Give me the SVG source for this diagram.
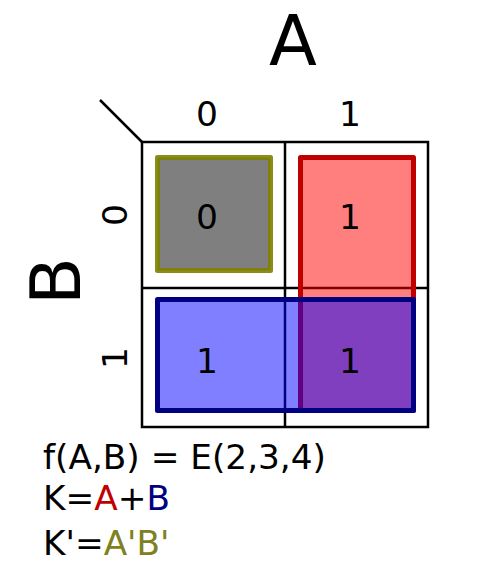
<svg xmlns="http://www.w3.org/2000/svg" width="500" height="572" viewBox="0 0 500 572">
<style>
text{font-family:"DejaVu Sans",sans-serif;fill:#000}
.big{font-size:70px;text-anchor:middle}
.mid{font-size:34.5px;text-anchor:middle}
.eq{font-size:34.3px}
.grid{fill:none;stroke:#000;stroke-width:2.5}
.grp{stroke-width:5;stroke-linejoin:round}
</style>
<rect width="500" height="572" fill="#fff"/>
<g id="grid">
<rect class="grid" x="142" y="142" width="286" height="285"/>
<line class="grid" x1="285" y1="142" x2="285" y2="427"/>
<line class="grid" x1="142" y1="288" x2="428" y2="288"/>
<line class="grid" x1="100" y1="100" x2="142" y2="142"/>
</g>
<g id="group-zero"><rect class="grp" x="157.5" y="157.5" width="113" height="113" fill="#000" fill-opacity="0.5" stroke="#808000" stroke-opacity="0.9"/></g>
<g id="group-A"><rect class="grp" x="300.5" y="157.5" width="113" height="253" fill="#f00" fill-opacity="0.5" stroke="#c00000"/></g>
<g id="group-B"><rect class="grp" x="157.5" y="299.5" width="256" height="111" fill="#00f" fill-opacity="0.5" stroke="#000080"/></g>
<g id="labels">
<text class="big" x="293" y="65">A</text>
<text class="big" transform="translate(80 281) rotate(-90)">B</text>
<text class="mid" x="207" y="126">0</text>
<text class="mid" x="350" y="126">1</text>
<text class="mid" transform="translate(127 215) rotate(-90)">0</text>
<text class="mid" transform="translate(127 358) rotate(-90)">1</text>
<text class="mid" x="207" y="229">0</text>
<text class="mid" x="350" y="229">1</text>
<text class="mid" x="207" y="373">1</text>
<text class="mid" x="350" y="373">1</text>
</g>
<g id="equations">
<text class="eq" x="43" y="469">f(A,B) = E(2,3,4)</text>
<text class="eq" x="43" y="510">K=<tspan fill="#c00000">A</tspan>+<tspan fill="#000080">B</tspan></text>
<text class="eq" x="43" y="555">K'=<tspan fill="#808020">A'B'</tspan></text>
</g>
</svg>
